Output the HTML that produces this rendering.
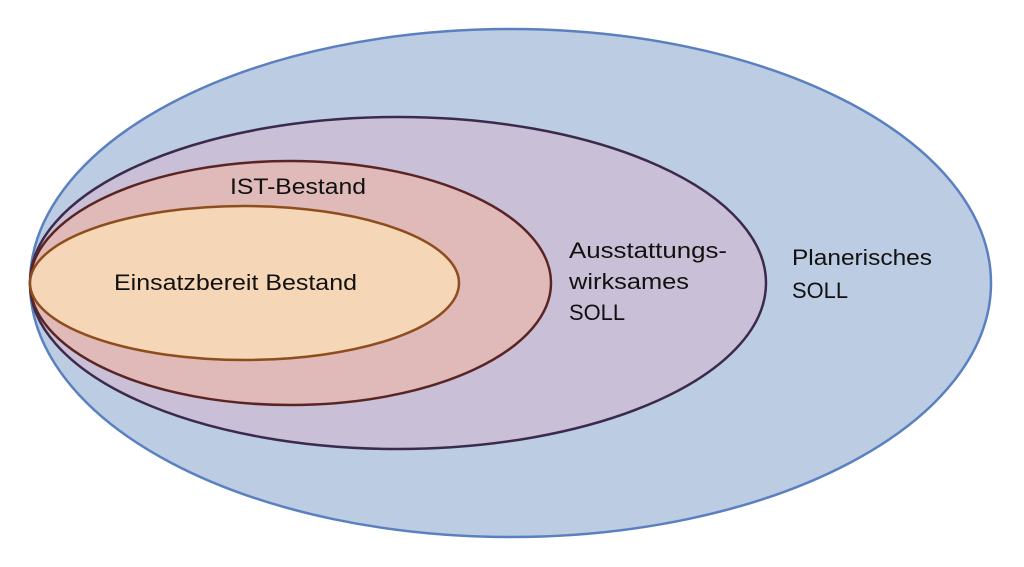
<!DOCTYPE html>
<html><head><meta charset="utf-8"><style>
html,body{margin:0;padding:0;background:#fff;width:1024px;height:567px;overflow:hidden}
text{font-family:"Liberation Sans",sans-serif;font-size:22px;fill:#111}
</style></head><body>
<svg width="1024" height="567" viewBox="0 0 1024 567" xmlns="http://www.w3.org/2000/svg">
<ellipse cx="510.5" cy="283" rx="480.5" ry="254" fill="#bccce3" stroke="#5b80c0" stroke-width="2.5"/>
<ellipse cx="398" cy="283" rx="368" ry="166" fill="#c9bfd6" stroke="#3b2a4c" stroke-width="2.5"/>
<ellipse cx="290.5" cy="283" rx="260.5" ry="122" fill="#dfbab9" stroke="#5b2424" stroke-width="2.5"/>
<ellipse cx="244.5" cy="283" rx="214.5" ry="77" fill="#f5d7b7" stroke="#8e4d1c" stroke-width="2.5"/>
<text x="114" y="290" textLength="243" lengthAdjust="spacingAndGlyphs">Einsatzbereit Bestand</text>
<text x="230" y="194" textLength="136" lengthAdjust="spacingAndGlyphs">IST-Bestand</text>
<text x="569" y="258" textLength="158" lengthAdjust="spacingAndGlyphs">Ausstattungs-</text>
<text x="569" y="289" textLength="120" lengthAdjust="spacingAndGlyphs">wirksames</text>
<text x="569" y="320" textLength="56" lengthAdjust="spacingAndGlyphs">SOLL</text>
<text x="792" y="265" textLength="140" lengthAdjust="spacingAndGlyphs">Planerisches</text>
<text x="792" y="298" textLength="56" lengthAdjust="spacingAndGlyphs">SOLL</text>
</svg>
</body></html>
